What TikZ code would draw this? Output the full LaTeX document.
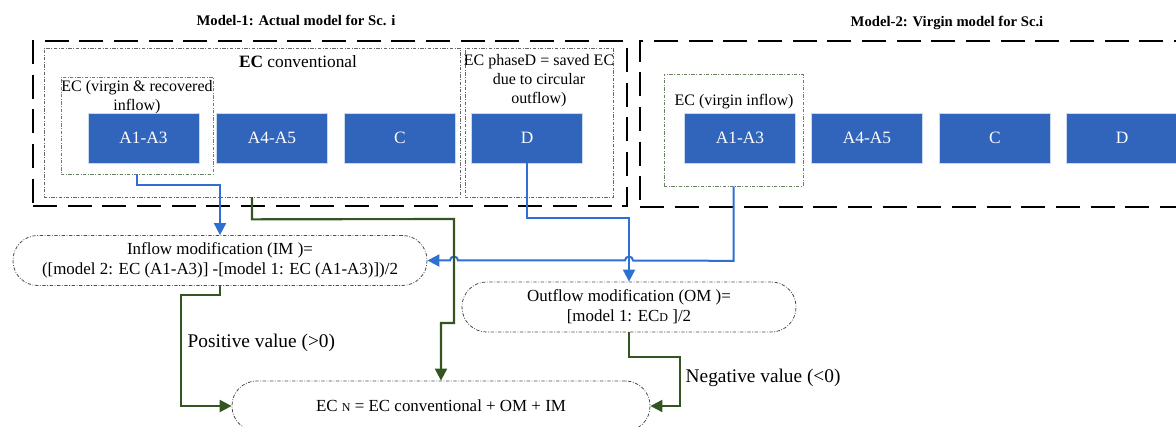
\documentclass[tikz,border=0pt]{standalone}
\usepackage{fontspec}
\setmainfont{Liberation Serif}
\usetikzlibrary{arrows.meta,positioning}
\definecolor{bleubloc}{RGB}{48,101,187}
\definecolor{bleulien}{RGB}{45,112,210}
\definecolor{vertfonce}{RGB}{52,84,33}
\definecolor{grisvert}{RGB}{105,130,100}
\begin{document}
\begin{tikzpicture}[x=0.75pt,y=-0.75pt,font=\fontsize{12}{14.25}\selectfont]
  \tikzset{modele/.style={rectangle,draw,line width=2.2pt,dash pattern=on 18pt off 8pt}}
  \tikzset{cadre/.style={rectangle,draw=gray!80!black,line width=0.5pt,dash pattern=on 2.5pt off 1.2pt on 0.6pt off 1.2pt}}
  \tikzset{cadrevert/.style={cadre,draw=grisvert}}
  \tikzset{phase/.style={rectangle,fill=bleubloc,draw=white!75!bleubloc,line width=0.5pt,text=white,
      minimum width=83pt,minimum height=37.5pt,font=\fontsize{13}{15}\selectfont}}
  \tikzset{formule/.style={rectangle,draw=gray!60!black,line width=0.6pt,rounded corners=18.5pt,
      dash pattern=on 2.5pt off 1.2pt on 0.6pt off 1.2pt,minimum height=37.5pt,align=center,
      font=\fontsize{12.7}{15}\selectfont}}
  \tikzset{lienbleu/.style={draw=bleulien,line width=1.5pt,-{Triangle[length=9pt,width=9pt]}}}
  \tikzset{lienvert/.style={draw=vertfonce,line width=1.6pt,-{Triangle[length=9pt,width=9pt]}}}
  \clip (0,0) rectangle (1176,427);
  % model 1
  \node (t1) at (296,20) {\fontsize{11}{13}\selectfont\bfseries Model-1: Actual model for Sc. i};
  \node[modele,minimum width=445.5pt,minimum height=123.75pt] (m1) at (330,123.5) {};
  \node[cadre,minimum width=312pt,minimum height=111.75pt] (ec1) at (252,122.5) {};
  \node[cadre,minimum width=111pt,minimum height=111.75pt] (pd1) at (539,122.5) {};
  \node[cadrevert,minimum width=114pt,minimum height=72.75pt] (ev1) at (137,125.5) {};
  \node (tec1) at (298,62) {\fontsize{13}{15}\selectfont\textbf{EC} conventional};
  \node[align=center,inner sep=0pt] (tpd1) at (539,81) {EC phaseD = saved EC\\due to circular\\outflow)};
  \node[align=center,inner sep=0pt] (tev1) at (137,97.5) {EC (virgin \& recovered\\inflow)};
  \node[phase] (a1) at (143.5,138) {A1-A3};
  \node[phase] (b1) at (272,138) {A4-A5};
  \node[phase] (c1) at (400,138) {C};
  \node[phase] (d1) at (527,138) {D};
  % model 2
  \node (t2) at (947,23) {\fontsize{11}{13}\selectfont\bfseries Model-2: Virgin model for Sc.i};
  \node[modele,minimum width=420pt,minimum height=124.5pt] (m2) at (920,124) {};
  \node[cadrevert,minimum width=104.25pt,minimum height=84pt] (ev2) at (733.5,130) {};
  \node[inner sep=0pt] (tev2) at (734,102) {EC (virgin inflow)};
  \node[phase] (a2) at (740,138) {A1-A3};
  \node[phase] (b2) at (867,138) {A4-A5};
  \node[phase] (c2) at (995,138) {C};
  \node[phase] (d2) at (1122,138) {D};
  % modifications
  \node[formule,minimum width=310.5pt] (im) at (220,260.5)
    {Inflow modification (IM )=\\([model 2: EC (A1-A3)] -[model 1: EC (A1-A3)])/2};
  \node[formule,minimum width=250.5pt] (om) at (629,307)
    {Outflow modification (OM )=\\{}[model 1: EC{\fontsize{9}{10}\selectfont D} ]/2};
  \node[formule,minimum width=313.5pt] (ecn) at (441,406)
    {EC {\fontsize{9}{10}\selectfont N} = EC conventional + OM + IM};
  \node[anchor=west,font=\fontsize{14.5}{16}\selectfont] (pos) at (183,343) {Positive value (>0)};
  \node[anchor=west,font=\fontsize{14.5}{16}\selectfont] (neg) at (681,378) {Negative value (<0)};
  % connectors
  \draw[lienbleu] (ev1.south) -- ++(0,11) -| (im.north);
  \draw[lienbleu] (d1.south) -- ++(0,55) -| (om.north);
  \draw[lienbleu] (ev2.south) -- ++(0,74.5) -- (633,260.5)
    arc[start angle=0,end angle=180,radius=3pt] -- (458,260.5)
    arc[start angle=0,end angle=180,radius=3pt] -- (im.east);
  \draw[lienvert] (ec1.south) -- ++(0,22) -- (454,219) -- (454,323) -| (ecn.north);
  \draw[lienvert] (im.south) -- ++(0,9) -- ++(-39,0) |- (ecn.west);
  \draw[lienvert] (om.south) -- ++(0,25) -- ++(51,0) |- (ecn.east);
\end{tikzpicture}
\end{document}
